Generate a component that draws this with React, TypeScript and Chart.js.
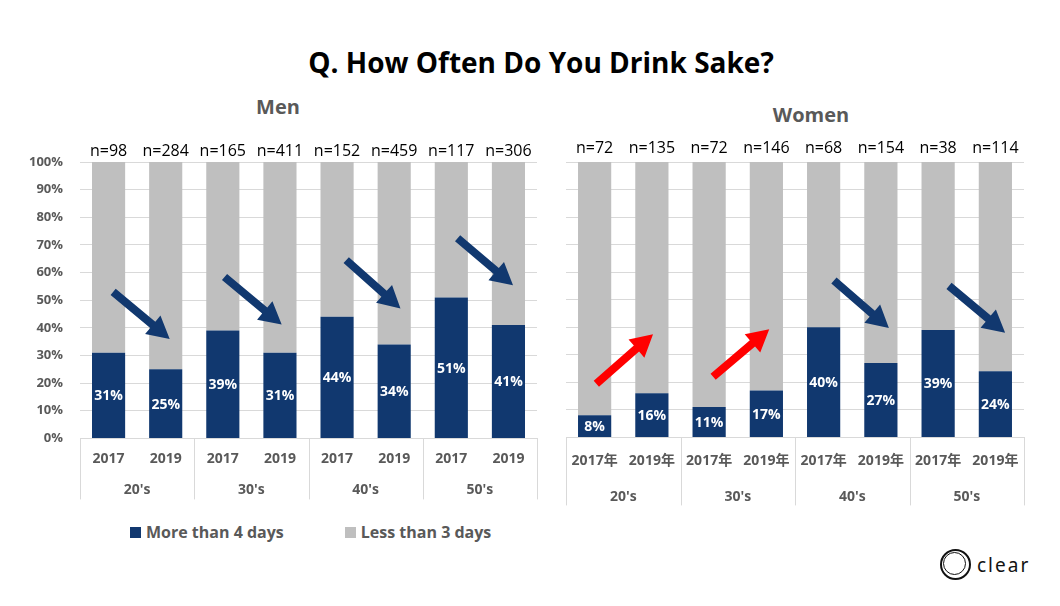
import React, { useEffect, useRef } from 'react';
import { Chart, ChartConfiguration, registerables } from 'chart.js';

Chart.register(...registerables);

const FONT = "'Open Sans', 'Noto Sans CJK JP', sans-serif";
const TEXT = '#595959';
const GRID = '#d9d9d9';
const BLUE = '#11386f';
const GRAY = '#bfbfbf';
const RED = '#ff0000';

Chart.defaults.font.family = FONT;

// data
const ageGroups = ["20's", "30's", "40's", "50's"];
const menYears = ['2017', '2019', '2017', '2019', '2017', '2019', '2017', '2019'];
const womenYears = ['2017年', '2019年', '2017年', '2019年', '2017年', '2019年', '2017年', '2019年'];
const seriesNames = ['More than 4 days', 'Less than 3 days'];

const menMore = [31, 25, 39, 31, 44, 34, 51, 41];
const menLess = [69, 75, 61, 69, 56, 66, 49, 59];
const menN = [98, 284, 165, 411, 152, 459, 117, 306];

const womenMore = [8, 16, 11, 17, 40, 27, 39, 24];
const womenLess = [92, 84, 89, 83, 60, 73, 61, 76];
const womenN = [72, 135, 72, 146, 68, 154, 38, 114];

// trend arrows: [from category, from %, to category, to %]
const menArrows = [
  [0.08, 53, 1.07, 36],
  [2.03, 58.4, 3.03, 41.2],
  [4.16, 64.5, 5.11, 47],
  [6.11, 72.4, 7.08, 55.4],
];
const womenArrows = [
  [0.03, 19.5, 1.02, 37.5],
  [2.07, 22, 3.05, 39.3],
  [4.18, 57, 5.14, 39.7],
  [6.19, 55, 7.17, 38],
];

function drawArrow(ctx: CanvasRenderingContext2D, x1: number, y1: number, x2: number, y2: number, color: string) {
  const ang = Math.atan2(y2 - y1, x2 - x1);
  const len = Math.hypot(x2 - x1, y2 - y1);
  const shaft = 4, head = 12, headLen = 22;
  ctx.save();
  ctx.translate(x1, y1);
  ctx.rotate(ang);
  ctx.beginPath();
  ctx.moveTo(0, -shaft);
  ctx.lineTo(len - headLen, -shaft);
  ctx.lineTo(len - headLen, -head);
  ctx.lineTo(len, 0);
  ctx.lineTo(len - headLen, head);
  ctx.lineTo(len - headLen, shaft);
  ctx.lineTo(0, shaft);
  ctx.closePath();
  ctx.fillStyle = color;
  ctx.fill();
  ctx.restore();
}

interface PanelProps {
  years: string[];
  more: number[];
  less: number[];
  counts: number[];
  arrows: number[][];
  showY: boolean;
  left: number;
  top: number;
  width: number;
  height: number;
  pad: { top: number; left: number; right: number; bottom: number };
  yearPad: number;
  groupPad: number;
  sepBottom: number;
  nOffset: number;
}

const Panel: React.FC<PanelProps> = (p) => {
  const canvasRef = useRef<HTMLCanvasElement | null>(null);

  useEffect(() => {
    if (!canvasRef.current) return;

    const overlay = {
      id: 'overlay',
      afterDatasetsDraw(chart: Chart) {
        const { ctx, chartArea } = chart;
        const xs = chart.scales.x;
        const ys = chart.scales.y;
        ctx.save();

        // separators between the age groups, through both label rows
        ctx.strokeStyle = GRID;
        ctx.lineWidth = 1;
        for (let g = 0; g <= ageGroups.length; g++) {
          const x = Math.round(xs.getPixelForValue(g * 2 - 0.5)) + 0.5;
          ctx.beginPath();
          ctx.moveTo(x, chartArea.bottom);
          ctx.lineTo(x, chartArea.bottom + p.sepBottom);
          ctx.stroke();
        }

        p.arrows.forEach(([fx, fy, tx, ty]) => {
          drawArrow(
            ctx,
            xs.getPixelForValue(fx),
            ys.getPixelForValue(fy),
            xs.getPixelForValue(tx),
            ys.getPixelForValue(ty),
            ty > fy ? RED : BLUE
          );
        });

        const meta = chart.getDatasetMeta(0);
        ctx.textAlign = 'center';
        ctx.textBaseline = 'middle';
        ctx.font = `bold 14px ${FONT}`;
        ctx.fillStyle = '#ffffff';
        meta.data.forEach((bar: any, i: number) => {
          const { x, y, base } = bar.getProps(['x', 'y', 'base'], true);
          ctx.fillText(`${p.more[i]}%`, x, (y + base) / 2 + 1);
        });
        ctx.font = `16px ${FONT}`;
        ctx.fillStyle = '#000000';
        meta.data.forEach((bar: any, i: number) => {
          ctx.fillText(`n=${p.counts[i]}`, bar.x, chartArea.top - p.nOffset);
        });
        ctx.restore();
      },
    };

    const config: ChartConfiguration = {
      type: 'bar',
      data: {
        labels: p.years,
        datasets: [
          { label: seriesNames[0], data: p.more, backgroundColor: BLUE, borderWidth: 0 },
          { label: seriesNames[1], data: p.less, backgroundColor: GRAY, borderWidth: 0 },
        ],
      },
      options: {
        responsive: false,
        animation: false,
        events: [],
        layout: { padding: p.pad },
        datasets: { bar: { barPercentage: 0.58, categoryPercentage: 1 } },
        plugins: {
          legend: { display: false },
          tooltip: { enabled: false },
          title: { display: false },
        },
        scales: {
          x: {
            stacked: true,
            offset: true,
            grid: { display: false, drawTicks: false },
            border: { display: true, color: GRID },
            ticks: {
              autoSkip: false,
              maxRotation: 0,
              color: TEXT,
              padding: p.yearPad,
              font: { size: 14, weight: 'bold' },
            },
          },
          x2: {
            type: 'category',
            labels: ageGroups,
            position: 'bottom',
            offset: true,
            grid: { display: false, drawTicks: false },
            border: { display: false },
            ticks: { color: TEXT, padding: p.groupPad, font: { size: 14, weight: 'bold' } },
          },
          y: {
            stacked: true,
            min: 0,
            max: 100,
            grid: { color: GRID, drawTicks: false },
            border: { display: false },
            ticks: {
              display: p.showY,
              stepSize: 10,
              padding: 17,
              color: TEXT,
              font: { size: 13, weight: 'bold' },
              callback: (v: any) => `${v}%`,
            },
          },
        },
      },
      plugins: [overlay],
    } as any;

    const chart = new Chart(canvasRef.current, config);
    return () => {
      chart.destroy();
    };
  }, []);

  return (
    <canvas
      ref={canvasRef}
      width={p.width}
      height={p.height}
      style={{ position: 'absolute', left: p.left, top: p.top, width: p.width, height: p.height }}
    />
  );
};

const LegendItem: React.FC<{ color: string; text: string }> = ({ color, text }) => (
  <div style={{ display: 'flex', alignItems: 'center' }}>
    <span style={{ width: 11, height: 11, background: color, marginRight: 5, display: 'inline-block' }} />
    <span>{text}</span>
  </div>
);

export default function App() {
  return (
    <div
      style={{
        position: 'fixed',
        left: 0,
        top: 0,
        width: 1060,
        height: 606,
        background: '#ffffff',
        overflow: 'hidden',
        fontFamily: FONT,
      }}
    >
      <div
        style={{
          position: 'absolute',
          left: 0,
          width: 1082,
          top: 42,
          textAlign: 'center',
          fontSize: 28,
          fontWeight: 'bold',
          color: '#000',
          lineHeight: '40px',
        }}
      >
        Q. How Often Do You Drink Sake?
      </div>
      <div style={{ position: 'absolute', left: 178, width: 200, top: 93, textAlign: 'center', fontSize: 20, fontWeight: 'bold', color: TEXT, lineHeight: '28px' }}>
        Men
      </div>
      <div style={{ position: 'absolute', left: 711, width: 200, top: 101, textAlign: 'center', fontSize: 20, fontWeight: 'bold', color: TEXT, lineHeight: '28px' }}>
        Women
      </div>

      <Panel
        years={menYears}
        more={menMore}
        less={menLess}
        counts={menN}
        arrows={menArrows}
        showY={true}
        left={0}
        top={130}
        width={556}
        height={370}
        pad={{ top: 32, left: 12, right: 19, bottom: 0 }}
        yearPad={12}
        groupPad={2}
        sepBottom={61}
        nOffset={11}
      />
      <Panel
        years={womenYears}
        more={womenMore}
        less={womenLess}
        counts={womenN}
        arrows={womenArrows}
        showY={false}
        left={540}
        top={130}
        width={520}
        height={379}
        pad={{ top: 32, left: 26, right: 36, bottom: 0 }}
        yearPad={15}
        groupPad={4}
        sepBottom={68}
        nOffset={14}
      />

      <div
        style={{
          position: 'absolute',
          left: 130,
          top: 521,
          display: 'flex',
          gap: 61,
          fontSize: 16,
          fontWeight: 'bold',
          color: TEXT,
          lineHeight: '22px',
        }}
      >
        <LegendItem color={BLUE} text={seriesNames[0]} />
        <LegendItem color={GRAY} text={seriesNames[1]} />
      </div>

      <div style={{ position: 'absolute', left: 940, top: 549, width: 27, height: 27, borderRadius: '50%', border: '2px solid #111' }} />
      <div style={{ position: 'absolute', left: 943, top: 552, width: 21, height: 21, borderRadius: '50%', border: '1.5px solid #111' }} />
      <div
        style={{
          position: 'absolute',
          left: 977,
          top: 552,
          fontFamily: "'Noto Sans', sans-serif",
          fontSize: 19,
          letterSpacing: 2,
          color: '#111',
          lineHeight: '26px',
        }}
      >
        clear
      </div>
    </div>
  );
}
